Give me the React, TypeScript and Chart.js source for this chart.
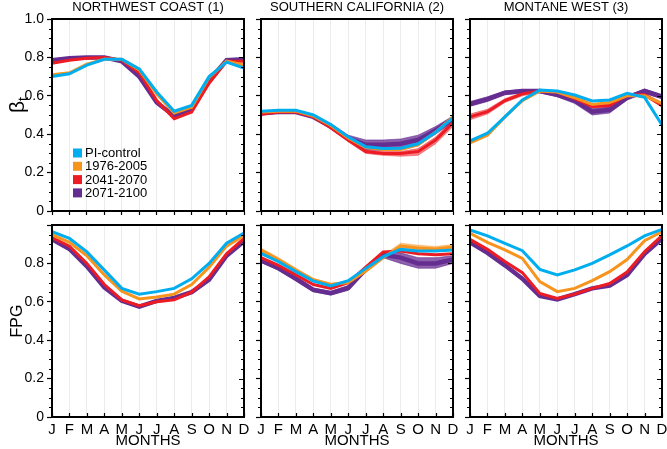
import React, { useEffect, useRef } from "react";
import { Chart, registerables } from "chart.js";

Chart.register(...registerables);

// ---------- categories / labels ----------
const MONTHS = ["J", "F", "M", "A", "M", "J", "J", "A", "S", "O", "N", "D"];
const SERIES_LABELS = ["PI-control", "1976-2005", "2041-2070", "2071-2100"];
const REGION_TITLES = ["NORTHWEST COAST (1)", "SOUTHERN CALIFORNIA (2)", "MONTANE WEST (3)"];
const Y_TICK_VALUES = [0, 0.2, 0.4, 0.6, 0.8, 1.0];
const X_TITLE = "MONTHS";
const ROW_TITLES = ["β", "FPG"];

// ---------- beta_t (top row) ----------
const NW_BETA_PI = [0.70, 0.715, 0.76, 0.79, 0.79, 0.74, 0.62, 0.52, 0.55, 0.70, 0.775, 0.745];
const NW_BETA_1976 = [0.71, 0.72, 0.765, 0.79, 0.79, 0.735, 0.61, 0.51, 0.54, 0.695, 0.78, 0.76];
const NW_BETA_2041 = [0.77, 0.785, 0.795, 0.80, 0.785, 0.72, 0.575, 0.48, 0.515, 0.665, 0.78, 0.78];
const NW_BETA_2071 = [0.785, 0.795, 0.80, 0.80, 0.78, 0.70, 0.565, 0.495, 0.53, 0.68, 0.785, 0.79];

const SC_BETA_PI = [0.52, 0.525, 0.525, 0.50, 0.45, 0.385, 0.335, 0.325, 0.327, 0.35, 0.41, 0.485];
const SC_BETA_1976 = [0.515, 0.52, 0.52, 0.495, 0.445, 0.38, 0.33, 0.32, 0.32, 0.345, 0.41, 0.49];
const SC_BETA_2041 = [0.505, 0.515, 0.515, 0.49, 0.435, 0.37, 0.31, 0.30, 0.30, 0.31, 0.37, 0.46];
const SC_BETA_2071 = [0.51, 0.515, 0.515, 0.49, 0.44, 0.38, 0.345, 0.345, 0.35, 0.37, 0.42, 0.48];
const SC_BETA_2041_LO = [0.495, 0.51, 0.51, 0.485, 0.425, 0.36, 0.30, 0.29, 0.285, 0.29, 0.35, 0.44];
const SC_BETA_2041_HI = [0.51, 0.52, 0.52, 0.495, 0.44, 0.375, 0.32, 0.31, 0.31, 0.325, 0.385, 0.475];
const SC_BETA_2071_LO = [0.50, 0.51, 0.51, 0.485, 0.43, 0.365, 0.32, 0.315, 0.32, 0.34, 0.40, 0.465];
const SC_BETA_2071_HI = [0.52, 0.525, 0.525, 0.50, 0.455, 0.395, 0.37, 0.37, 0.375, 0.395, 0.44, 0.495];

const MW_BETA_PI = [0.365, 0.405, 0.49, 0.578, 0.63, 0.625, 0.604, 0.573, 0.578, 0.613, 0.592, 0.448];
const MW_BETA_1976 = [0.355, 0.395, 0.49, 0.575, 0.625, 0.62, 0.59, 0.555, 0.565, 0.60, 0.60, 0.56];
const MW_BETA_2041 = [0.49, 0.517, 0.575, 0.61, 0.625, 0.62, 0.585, 0.545, 0.55, 0.605, 0.605, 0.55];
const MW_BETA_2071 = [0.557, 0.583, 0.616, 0.625, 0.625, 0.605, 0.575, 0.517, 0.527, 0.59, 0.625, 0.595];
const MW_BETA_2041_LO = [0.475, 0.505, 0.565, 0.60, 0.618, 0.612, 0.575, 0.535, 0.54, 0.597, 0.598, 0.54];
const MW_BETA_2041_HI = [0.505, 0.53, 0.585, 0.618, 0.63, 0.626, 0.595, 0.555, 0.56, 0.613, 0.612, 0.565];
const MW_BETA_2071_LO = [0.545, 0.57, 0.605, 0.615, 0.615, 0.595, 0.56, 0.50, 0.51, 0.578, 0.612, 0.585];
const MW_BETA_2071_HI = [0.57, 0.595, 0.625, 0.632, 0.632, 0.615, 0.588, 0.532, 0.54, 0.60, 0.635, 0.605];

// ---------- FPG (bottom row) ----------
const NW_FPG_PI = [0.965, 0.93, 0.86, 0.765, 0.67, 0.64, 0.653, 0.67, 0.72, 0.80, 0.905, 0.958];
const NW_FPG_1976 = [0.95, 0.91, 0.84, 0.74, 0.655, 0.615, 0.625, 0.64, 0.69, 0.78, 0.89, 0.945];
const NW_FPG_2041 = [0.935, 0.89, 0.80, 0.69, 0.61, 0.58, 0.60, 0.61, 0.65, 0.73, 0.85, 0.93];
const NW_FPG_2071 = [0.925, 0.875, 0.785, 0.675, 0.605, 0.575, 0.605, 0.62, 0.65, 0.715, 0.84, 0.915];

const SC_FPG_PI = [0.852, 0.809, 0.757, 0.708, 0.682, 0.71, 0.774, 0.835, 0.873, 0.865, 0.865, 0.87];
const SC_FPG_1976 = [0.87, 0.82, 0.765, 0.715, 0.69, 0.70, 0.76, 0.83, 0.89, 0.88, 0.875, 0.885];
const SC_FPG_2041 = [0.83, 0.79, 0.74, 0.69, 0.67, 0.70, 0.78, 0.86, 0.865, 0.85, 0.845, 0.85];
const SC_FPG_2071 = [0.815, 0.775, 0.72, 0.662, 0.645, 0.672, 0.77, 0.845, 0.83, 0.80, 0.80, 0.82];
const SC_FPG_1976_LO = [0.86, 0.812, 0.758, 0.708, 0.684, 0.695, 0.752, 0.822, 0.878, 0.87, 0.866, 0.875];
const SC_FPG_1976_HI = [0.88, 0.83, 0.775, 0.722, 0.697, 0.708, 0.77, 0.842, 0.905, 0.895, 0.888, 0.898];
const SC_FPG_2071_LO = [0.805, 0.765, 0.71, 0.652, 0.635, 0.66, 0.76, 0.83, 0.80, 0.775, 0.775, 0.80];
const SC_FPG_2071_HI = [0.825, 0.785, 0.73, 0.672, 0.655, 0.685, 0.785, 0.86, 0.855, 0.83, 0.83, 0.84];

const MW_FPG_PI = [0.974, 0.943, 0.904, 0.866, 0.769, 0.74, 0.766, 0.80, 0.844, 0.891, 0.943, 0.977];
const MW_FPG_1976 = [0.957, 0.91, 0.87, 0.826, 0.705, 0.653, 0.67, 0.71, 0.757, 0.82, 0.918, 0.965];
const MW_FPG_2041 = [0.925, 0.873, 0.81, 0.752, 0.644, 0.618, 0.64, 0.67, 0.695, 0.755, 0.86, 0.945];
const MW_FPG_2071 = [0.91, 0.855, 0.79, 0.72, 0.63, 0.612, 0.64, 0.67, 0.685, 0.74, 0.85, 0.93];

// ---------- styling ----------
const COLORS = ["#00AEEF", "#F7941D", "#ED1C24", "#662D91"];
const BAND_COLORS = ["rgba(0,174,239,0.6)", "rgba(247,148,29,0.55)", "rgba(237,28,36,0.55)", "rgba(102,45,145,0.75)"];
const WIDTHS = [3, 3, 3, 4.5];
const FONT = "'Liberation Sans', Arial, sans-serif";

const W = 667;
const H = 449;
const COL_LEFT = [52, 261, 470];
const PLOT_W = 192;
const ROW_TOP = [19, 225];
const PLOT_H = 192;
const Y_W = 44;
const X_H = [10, 32];
const TITLE_H = 19;

type Band = { series: number; lo: number[]; hi: number[] };
type PanelCfg = { row: number; col: number; series: number[][]; bands: Band[] };

const PANELS: PanelCfg[] = [
  { row: 0, col: 0, series: [NW_BETA_PI, NW_BETA_1976, NW_BETA_2041, NW_BETA_2071], bands: [] },
  {
    row: 0, col: 1, series: [SC_BETA_PI, SC_BETA_1976, SC_BETA_2041, SC_BETA_2071],
    bands: [
      { series: 3, lo: SC_BETA_2071_LO, hi: SC_BETA_2071_HI },
      { series: 2, lo: SC_BETA_2041_LO, hi: SC_BETA_2041_HI },
    ],
  },
  {
    row: 0, col: 2, series: [MW_BETA_PI, MW_BETA_1976, MW_BETA_2041, MW_BETA_2071],
    bands: [
      { series: 3, lo: MW_BETA_2071_LO, hi: MW_BETA_2071_HI },
      { series: 2, lo: MW_BETA_2041_LO, hi: MW_BETA_2041_HI },
    ],
  },
  { row: 1, col: 0, series: [NW_FPG_PI, NW_FPG_1976, NW_FPG_2041, NW_FPG_2071], bands: [] },
  {
    row: 1, col: 1, series: [SC_FPG_PI, SC_FPG_1976, SC_FPG_2041, SC_FPG_2071],
    bands: [
      { series: 3, lo: SC_FPG_2071_LO, hi: SC_FPG_2071_HI },
      { series: 1, lo: SC_FPG_1976_LO, hi: SC_FPG_1976_HI },
    ],
  },
  { row: 1, col: 2, series: [MW_FPG_PI, MW_FPG_1976, MW_FPG_2041, MW_FPG_2071], bands: [] },
];

function zeroPad(scale: any) {
  scale.paddingLeft = 0;
  scale.paddingRight = 0;
  scale.paddingTop = 0;
  scale.paddingBottom = 0;
}

function makeFramePlugin(cfg: PanelCfg) {
  return {
    id: "frameTicks" + cfg.row + cfg.col,
    afterDraw(chart: any) {
      const { ctx, chartArea } = chart;
      const { left, right, top, bottom } = chartArea;
      const ys = chart.scales.y;
      const xs = chart.scales.x;
      ctx.save();
      ctx.strokeStyle = "#000";
      ctx.lineWidth = 1.2;
      ctx.beginPath();
      for (let k = 0; k <= 20; k++) {
        const v = k * 0.05;
        const py = Math.round(ys.getPixelForValue(v)) + 0.5;
        const major = k % 4 === 0;
        if (!major) {
          ctx.moveTo(left - 3, py);
          ctx.lineTo(left, py);
        }
        ctx.moveTo(right, py);
        ctx.lineTo(right - (major ? 5 : 3), py);
      }
      if (cfg.row === 1) {
        for (let i = 0; i < MONTHS.length; i++) {
          const px = Math.round(xs.getPixelForValue(i)) + 0.5;
          ctx.moveTo(px, bottom);
          ctx.lineTo(px, bottom - 4);
        }
      }
      ctx.stroke();
      ctx.lineWidth = 2;
      ctx.strokeRect(left, top, right - left, bottom - top);

      // legend (first panel only)
      if (cfg.row === 0 && cfg.col === 0) {
        ctx.font = "13px " + FONT;
        ctx.textBaseline = "middle";
        ctx.textAlign = "left";
        for (let i = 0; i < SERIES_LABELS.length; i++) {
          const ds = chart.data.datasets[i];
          const cy = 153 + i * 13.3;
          ctx.fillStyle = ds.borderColor;
          ctx.fillRect(left + 21, cy - 4.5, 9, 9);
          ctx.fillStyle = "#000";
          ctx.fillText(ds.label, left + 33, cy + 0.5);
        }
      }
      // beta_t row title
      if (cfg.row === 0 && cfg.col === 0) {
        ctx.save();
        ctx.translate(18, (top + bottom) / 2 - 10);
        ctx.rotate(-Math.PI / 2);
        ctx.fillStyle = "#000";
        ctx.textBaseline = "middle";
        ctx.textAlign = "left";
        ctx.font = "21px " + FONT;
        const wb = ctx.measureText(ROW_TITLES[0]).width;
        ctx.font = "14px " + FONT;
        const wt = ctx.measureText("t").width;
        const x0 = -(wb + wt) / 2;
        ctx.font = "21px " + FONT;
        ctx.fillText(ROW_TITLES[0], x0, 0);
        ctx.font = "14px " + FONT;
        ctx.fillText("t", x0 + wb, 6);
        ctx.restore();
      }
      ctx.restore();
    },
  };
}

function buildConfig(cfg: PanelCfg): any {
  const datasets: any[] = cfg.series.map((d, i) => ({
    label: SERIES_LABELS[i],
    data: d,
    borderColor: COLORS[i],
    backgroundColor: COLORS[i],
    borderWidth: WIDTHS[i],
    pointRadius: 0,
    tension: 0,
    fill: false,
  }));
  cfg.bands.forEach((b) => {
    const base = datasets.length;
    datasets.push({
      label: SERIES_LABELS[b.series] + " low",
      data: b.lo,
      borderColor: BAND_COLORS[b.series],
      borderWidth: 0.8,
      pointRadius: 0,
      tension: 0,
      fill: false,
    });
    datasets.push({
      label: SERIES_LABELS[b.series] + " high",
      data: b.hi,
      borderColor: BAND_COLORS[b.series],
      backgroundColor: BAND_COLORS[b.series],
      borderWidth: 0.8,
      pointRadius: 0,
      tension: 0,
      fill: base,
    });
  });

  const left = COL_LEFT[cfg.col];
  const top = ROW_TOP[cfg.row];
  const padding = {
    left: left - Y_W,
    right: W - (left + PLOT_W),
    top: cfg.row === 0 ? top - TITLE_H : top,
    bottom: H - (top + PLOT_H) - X_H[cfg.row],
  };

  return {
    type: "line",
    data: { labels: MONTHS, datasets },
    plugins: [makeFramePlugin(cfg)],
    options: {
      responsive: false,
      animation: false,
      devicePixelRatio: 1,
      events: [],
      layout: { padding },
      plugins: {
        legend: { display: false },
        tooltip: { enabled: false },
        title: {
          display: cfg.row === 0,
          text: REGION_TITLES[cfg.col],
          fullSize: false,
          color: "#000",
          font: { family: FONT, size: 13, weight: "normal", lineHeight: 1.2 },
          padding: { top: 0, bottom: 3.4 },
        },
      },
      scales: {
        x: {
          type: "category",
          offset: false,
          border: { display: true, color: "#000", width: 2 },
          grid: {
            display: true,
            drawOnChartArea: true,
            color: "#ececec",
            lineWidth: 1,
            drawTicks: cfg.row === 0,
            tickLength: 4,
            tickColor: "#000",
            tickWidth: 1.2,
          },
          ticks: {
            display: cfg.row === 1,
            autoSkip: false,
            maxRotation: 0,
            minRotation: 0,
            padding: 4,
            color: "#000",
            font: { family: FONT, size: 15 },
          },
          title: {
            display: cfg.row === 1,
            text: X_TITLE,
            color: "#000",
            font: { family: FONT, size: 15 },
            padding: { top: 0, bottom: -1 },
          },
          afterFit: (scale: any) => {
            scale.height = X_H[cfg.row];
            zeroPad(scale);
          },
        },
        y: {
          min: 0,
          max: 1,
          border: { display: true, color: "#000", width: 2 },
          grid: {
            drawOnChartArea: false,
            drawTicks: true,
            tickLength: 5,
            tickColor: "#000",
            tickWidth: 1.2,
          },
          afterBuildTicks: (scale: any) => {
            scale.ticks = Y_TICK_VALUES.map((v) => ({ value: v }));
          },
          ticks: {
            display: cfg.col === 0,
            padding: 3,
            color: "#000",
            font: { family: FONT, size: 14 },
            callback: (v: any) => {
              const n = Number(v);
              if (cfg.row === 1 && n > 0.99) return "";
              return n === 0 ? "0" : n.toFixed(1);
            },
          },
          title: {
            display: cfg.col === 0 && cfg.row === 1,
            text: ROW_TITLES[1],
            color: "#000",
            font: { family: FONT, size: 16 },
            padding: { top: 0, bottom: 0 },
          },
          afterFit: (scale: any) => {
            scale.width = Y_W;
            zeroPad(scale);
          },
        },
      },
    },
  };
}

function Panel({ cfg }: { cfg: PanelCfg }) {
  const ref = useRef<HTMLCanvasElement>(null);
  useEffect(() => {
    if (!ref.current) return;
    const chart = new Chart(ref.current, buildConfig(cfg));
    return () => chart.destroy();
  }, [cfg]);
  return (
    <canvas
      ref={ref}
      width={W}
      height={H}
      style={{ position: "absolute", left: 0, top: 0, width: W, height: H }}
    />
  );
}

export default function App() {
  return (
    <div style={{ position: "fixed", left: 0, top: 0, width: W, height: H, background: "#fff" }}>
      {PANELS.map((p) => (
        <Panel key={p.row + "-" + p.col} cfg={p} />
      ))}
    </div>
  );
}
